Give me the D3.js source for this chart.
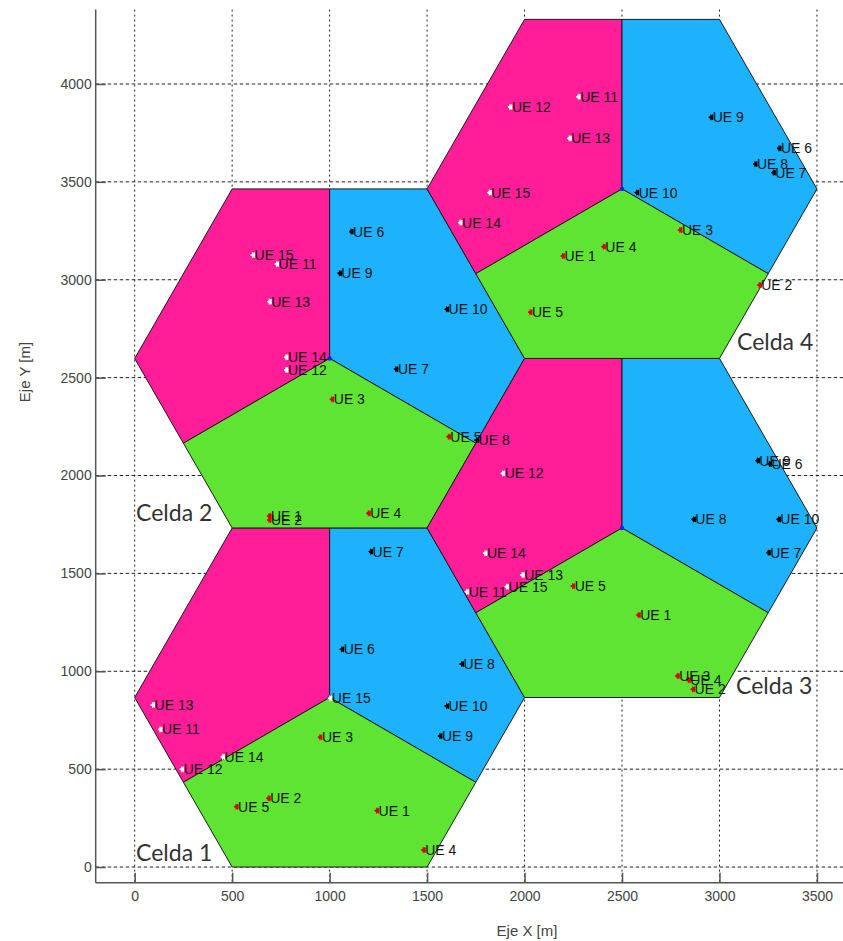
<!DOCTYPE html>
<html>
<head>
<meta charset="utf-8">
<script src="https://cdn.jsdelivr.net/npm/d3@7"></script>
<style>
  html, body { margin: 0; padding: 0; background: #ffffff; }
  svg { display: block; }
</style>
</head>
<body>
<svg id="chart" width="843" height="941"></svg>
<script>
// ---------------- data ----------------
const cellNames = ["Celda 1", "Celda 2", "Celda 3", "Celda 4"];
const cellCenterX = [1000, 1000, 2500, 2500];
const cellCenterY = [866, 2598, 1732, 3464];
const cellRadius = 1000;
// annotation anchor (data units) for each "Celda n" label
const cellLabelX = [7, 7, 3085, 3090];
const cellLabelY = [31, 1768, 884, 2641];

const ueNames = ["UE 1","UE 2","UE 3","UE 4","UE 5","UE 6","UE 7","UE 8","UE 9","UE 10","UE 11","UE 12","UE 13","UE 14","UE 15"];

const cell1UeX = [1241, 685, 950, 1480, 520, 1062, 1210, 1677, 1566, 1600, 130, 241, 92, 451, 1001];
const cell1UeY = [288, 351, 663, 87, 308, 1112, 1611, 1037, 669, 822, 703, 499, 828, 563, 862];

const cell2UeX = [689, 689, 1011, 1198, 1609, 1110, 1340, 1754, 1050, 1600, 728, 776, 690, 776, 605];
const cell2UeY = [1793, 1773, 2389, 1807, 2198, 3246, 2543, 2181, 3033, 2849, 3080, 2539, 2888, 2604, 3126];

const cell3UeX = [2583, 2862, 2783, 2840, 2247, 3256, 3250, 2866, 3194, 3302, 1703, 1888, 1988, 1797, 1908];
const cell3UeY = [1287, 908, 976, 955, 1435, 2059, 1606, 1776, 2076, 1776, 1406, 2011, 1492, 1603, 1432];

const cell4UeX = [2195, 3204, 2797, 2404, 2028, 3305, 3276, 3182, 2955, 2575, 2275, 1925, 2229, 1669, 1819];
const cell4UeY = [3121, 2973, 3254, 3169, 2834, 3671, 3547, 3591, 3830, 3445, 3935, 3883, 3722, 3292, 3445];

const xTicks = [0, 500, 1000, 1500, 2000, 2500, 3000, 3500];
const yTicks = [0, 500, 1000, 1500, 2000, 2500, 3000, 3500, 4000];
const xLabel = "Eje X [m]";
const yLabel = "Eje Y [m]";

// ---------------- layout ----------------
const svg = d3.select("#chart");
const pL = 95.7, pR = 846.2, pT = 9.6, pB = 882.7;
const x = d3.scaleLinear().domain([-200, 3650]).range([pL, pR]);
const y = d3.scaleLinear().domain([-80, 4380]).range([pB, pT]);

const colMagenta = "#ff1e97";
const colBlue = "#1eb1fc";
const colGreen = "#60e434";

// grid
const grid = svg.append("g");
grid.selectAll("line.gx").data(xTicks).join("line")
  .attr("x1", d => x(d)).attr("x2", d => x(d))
  .attr("y1", pT).attr("y2", pB)
  .attr("stroke", "#222").attr("stroke-width", 1)
  .attr("stroke-dasharray", "2,3");
grid.selectAll("line.gy").data(yTicks).join("line")
  .attr("x1", pL).attr("x2", 843)
  .attr("y1", d => y(d)).attr("y2", d => y(d))
  .attr("stroke", "#222").attr("stroke-width", 1)
  .attr("stroke-dasharray", "3.5,2.5");

// sectors
const cells = cellNames.map((n, i) => ({ name: n, cx: cellCenterX[i], cy: cellCenterY[i] }));
const hh = cellRadius * Math.sqrt(3) / 2;
function sectorPolys(c) {
  const R = cellRadius, cx = c.cx, cy = c.cy;
  return [
    { color: colMagenta, pts: [[cx, cy], [cx, cy + hh], [cx - R / 2, cy + hh], [cx - R, cy], [cx - 0.75 * R, cy - hh / 2]] },
    { color: colBlue, pts: [[cx, cy], [cx + 0.75 * R, cy - hh / 2], [cx + R, cy], [cx + R / 2, cy + hh], [cx, cy + hh]] },
    { color: colGreen, pts: [[cx, cy], [cx - 0.75 * R, cy - hh / 2], [cx - R / 2, cy - hh], [cx + R / 2, cy - hh], [cx + 0.75 * R, cy - hh / 2]] }
  ];
}
const lineGen = d3.line().x(d => x(d[0])).y(d => y(d[1]));
const polyG = svg.append("g");
cells.forEach(c => {
  sectorPolys(c).forEach(s => {
    polyG.append("path")
      .attr("d", lineGen(s.pts) + "Z")
      .attr("fill", s.color)
      .attr("stroke", "#1a1a1a")
      .attr("stroke-width", 1)
      .attr("stroke-linejoin", "round");
  });
});

// axes
const axG = svg.append("g").attr("font-family", "'Liberation Sans', Arial, sans-serif");
const xAxis = d3.axisBottom(x).tickValues(xTicks).tickSizeInner(-10).tickSizeOuter(0).tickPadding(8).tickFormat(d3.format("d"));
const yAxis = d3.axisLeft(y).tickValues(yTicks).tickSizeInner(-10).tickSizeOuter(0).tickPadding(4).tickFormat(d3.format("d"));
const gx = axG.append("g").attr("transform", `translate(0,${pB})`).call(xAxis);
const gy = axG.append("g").attr("transform", `translate(${pL},0)`).call(yAxis);
[gx, gy].forEach(g => {
  g.select(".domain").attr("stroke", "#555").attr("stroke-width", 1.5);
  g.selectAll(".tick line").attr("stroke", "#555").attr("stroke-width", 1.5);
  g.selectAll(".tick text").attr("fill", "#444").attr("font-size", 14).attr("font-family", "'Liberation Sans', Arial, sans-serif");
});
gx.select(".domain").attr("d", `M${pL},0H843`);
gy.select(".domain").attr("d", `M0,${pT}V${pB}`);

axG.append("text").text(xLabel)
  .attr("x", 527).attr("y", 936).attr("text-anchor", "middle")
  .attr("font-size", 15).attr("fill", "#444");
axG.append("text").text(yLabel)
  .attr("transform", "translate(30,372) rotate(-90)").attr("text-anchor", "middle")
  .attr("font-size", 15).attr("fill", "#444");

// base stations
svg.append("g").selectAll("circle").data(cells).join("circle")
  .attr("cx", d => x(d.cx)).attr("cy", d => y(d.cy)).attr("r", 2.2)
  .attr("fill", "#1020ff");

// UEs
const ueSets = [[cell1UeX, cell1UeY], [cell2UeX, cell2UeY], [cell3UeX, cell3UeY], [cell4UeX, cell4UeY]];
const markerColor = i => (i < 5 ? "#e00000" : (i < 10 ? "#000000" : "#ffffff"));
const ueG = svg.append("g").attr("font-family", "'Liberation Sans', Arial, sans-serif");
ueSets.forEach(([xs, ys]) => {
  xs.forEach((vx, i) => {
    const px = x(vx), py = y(ys[i]);
    ueG.append("path")
      .attr("d", `M${px - 2},${py} L${px + 2},${py - 2.5} L${px + 2},${py + 2.5} Z M${px},${py - 3} V${py + 3}`)
      .attr("fill", markerColor(i))
      .attr("stroke", markerColor(i)).attr("stroke-width", 1);
  });
});
ueSets.forEach(([xs, ys]) => {
  xs.forEach((vx, i) => {
    ueG.append("text").text(ueNames[i])
      .attr("x", x(vx) + 2).attr("y", y(ys[i]) + 5)
      .attr("font-size", 14).attr("fill", "#141414");
  });
});

// cell labels
svg.append("g").selectAll("text").data(cells).join("text")
  .text(d => d.name)
  .attr("x", (d, i) => x(cellLabelX[i]))
  .attr("y", (d, i) => y(cellLabelY[i]))
  .attr("font-family", "Lato, 'Open Sans', sans-serif")
  .attr("font-size", 23)
  .attr("fill", "#333");
</script>
</body>
</html>
